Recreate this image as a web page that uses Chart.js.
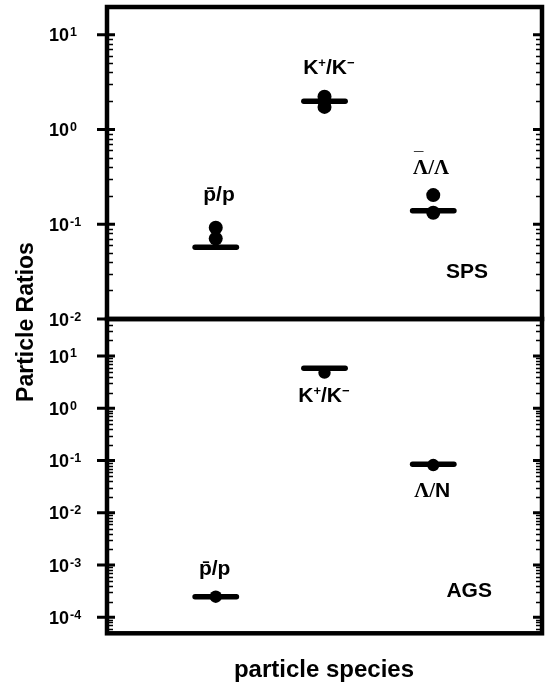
<!DOCTYPE html>
<html>
<head>
<meta charset="utf-8">
<script src="https://cdn.jsdelivr.net/npm/chart.js@4.4.1/dist/chart.umd.min.js"></script>
<style>
  html, body { margin: 0; padding: 0; background: #fff; }
  #wrap { position: relative; width: 551px; height: 687px; }
  #wrap canvas { position: absolute; left: 0; top: 0; }
</style>
</head>
<body>
<div id="wrap">
  <canvas id="spsChart" width="551" height="687"></canvas>
  <canvas id="agsChart" width="551" height="687"></canvas>
</div>
<script>
// positions of the three ratios along the (unlabelled) x axis
const speciesX = [1, 2, 3];

// SPS panel: two measurements per ratio and the model value
const spsMeasA = [0.092, 2.22, 0.203];
const spsMeasB = [0.0705, 1.73, 0.132];
const spsModel = [0.057, 1.98, 0.139];

// AGS panel: one measurement per ratio and the model value
const agsMeas = [2.48e-4, 4.8, 0.082];
const agsModel = [2.48e-4, 5.8, 0.085];

// y ranges and labelled decades
const spsRange = [0.01, 19.6];
const agsRange = [4.94e-5, 51];
const spsTickExp = [-2, -1, 0, 1];
const agsTickExp = [-4, -3, -2, -1, 0, 1];

const fonts = {
    sans: 'bold 21px "Liberation Sans", Arial, sans-serif',
    sup: 'bold 13px "Liberation Sans", Arial, sans-serif',
    serif: 'bold 21px "Liberation Serif", "Times New Roman", serif',
    bar: 'bold 17px "Liberation Sans", Arial, sans-serif',
    tick: 'bold 18px "Liberation Sans", Arial, sans-serif',
    tickSup: 'bold 12.5px "Liberation Sans", Arial, sans-serif',
    yTitle: 'bold 23px "Liberation Sans", Arial, sans-serif',
    xTitle: 'bold 24px "Liberation Sans", Arial, sans-serif'
};

// text annotations, placed in data coordinates
// a third entry of true puts a macron over that piece
const spsLabels = [
    { x: 1.03, y: 0.177, parts: [['p\u0304/p', 'sans']] },
    { x: 2.04, y: 3.81, parts: [['K', 'sans'], ['+', 'sup'], ['/', 'sans'], ['K', 'sans'], ['\u2212', 'sup']] },
    { x: 2.98, y: 0.339, parts: [['\u039B', 'serif', true], ['/\u039B', 'serif']] },
    { x: 3.31, y: 0.0268, parts: [['SPS', 'sans']] }
];
const agsLabels = [
    { x: 0.99, y: 6.47e-4, parts: [['p\u0304/p', 'sans']] },
    { x: 1.995, y: 1.32, parts: [['K', 'sans'], ['+', 'sup'], ['/', 'sans'], ['K', 'sans'], ['\u2212', 'sup']] },
    { x: 2.99, y: 0.0201, parts: [['\u039B/', 'serif'], ['N', 'sans']] },
    { x: 3.33, y: 2.45e-4, parts: [['AGS', 'sans']] }
];

function drawParts(ctx, parts, cx, baseline) {
    let total = 0;
    const widths = parts.map(p => {
        ctx.font = fonts[p[1]];
        const w = ctx.measureText(p[0]).width;
        total += w;
        return w;
    });
    let x = cx - total / 2;
    parts.forEach((p, i) => {
        ctx.font = fonts[p[1]];
        ctx.fillText(p[0], x, baseline + (p[1] === 'sup' ? -7 : 0));
        if (p[2]) {
            ctx.font = fonts.bar;
            const bw = ctx.measureText('\u00AF').width;
            ctx.fillText('\u00AF', x + widths[i] / 2 - bw / 2 - 2, baseline - 10);
        }
        x += widths[i];
    });
}

// frame, inward/outward log ticks, decade labels and annotations
function panelPlugin(id, tickExp, labels, withTitles) {
    return {
        id,
        afterDraw(chart) {
            const ctx = chart.ctx;
            const area = chart.chartArea;
            const xs = chart.scales.x, ys = chart.scales.y;
            ctx.save();
            ctx.strokeStyle = '#000';
            ctx.fillStyle = '#000';

            // minor ticks
            ctx.lineWidth = 1.5;
            for (let e = tickExp[0] - 1; e <= tickExp[tickExp.length - 1]; e++) {
                for (let k = 2; k <= 9; k++) {
                    const v = k * Math.pow(10, e);
                    if (v < ys.min || v > ys.max) continue;
                    const py = Math.round(ys.getPixelForValue(v)) + 0.5;
                    ctx.beginPath();
                    ctx.moveTo(area.left, py); ctx.lineTo(area.left + 6, py);
                    ctx.moveTo(area.right, py); ctx.lineTo(area.right - 6, py);
                    ctx.stroke();
                }
            }

            // major ticks and labels
            tickExp.forEach(e => {
                const py = ys.getPixelForValue(Math.pow(10, e));
                ctx.lineWidth = 3;
                ctx.beginPath();
                ctx.moveTo(area.left - 10, py); ctx.lineTo(area.left + 8, py);
                ctx.moveTo(area.right, py); ctx.lineTo(area.right - 9, py);
                ctx.stroke();
                ctx.textAlign = 'left';
                ctx.textBaseline = 'alphabetic';
                ctx.font = fonts.tick;
                ctx.fillText('10', 49, py + 6.7);
                const w = ctx.measureText('10').width;
                ctx.font = fonts.tickSup;
                ctx.fillText(e < 0 ? '-' + (-e) : String(e), 49 + w + 1, py + 1.5);
            });

            // frame
            ctx.lineWidth = 4.5;
            ctx.strokeRect(area.left, area.top, area.right - area.left, area.bottom - area.top);

            // annotations
            ctx.textAlign = 'left';
            ctx.textBaseline = 'alphabetic';
            labels.forEach(l => {
                drawParts(ctx, l.parts, xs.getPixelForValue(l.x), ys.getPixelForValue(l.y));
            });

            if (withTitles) {
                ctx.textAlign = 'center';
                ctx.font = fonts.xTitle;
                ctx.fillText('particle species', 324, 677);
                ctx.font = fonts.yTitle;
                ctx.save();
                ctx.translate(33, 322);
                ctx.rotate(-Math.PI / 2);
                ctx.fillText('Particle Ratios', 0, 0);
                ctx.restore();
            }
            ctx.restore();
        }
    };
}

function pointSet(values, radius) {
    return {
        data: speciesX.map((x, i) => ({ x, y: values[i] })),
        pointRadius: radius,
        pointHoverRadius: radius,
        pointBackgroundColor: '#000',
        pointBorderWidth: 0,
        showLine: false
    };
}

function segmentSets(model, half) {
    return model.map((v, i) => ({
        data: [{ x: speciesX[i] - half, y: v }, { x: speciesX[i] + half, y: v }],
        showLine: true,
        borderColor: '#000',
        borderWidth: 5.5,
        borderCapStyle: 'round',
        pointRadius: 0
    }));
}

function makePanel(canvasId, padding, range, datasets, plugin) {
    const ctx = document.getElementById(canvasId).getContext('2d');
    return new Chart(ctx, {
        type: 'scatter',
        data: { datasets },
        options: {
            responsive: false,
            animation: false,
            devicePixelRatio: 1,
            layout: { padding },
            plugins: { legend: { display: false }, tooltip: { enabled: false } },
            scales: {
                x: { type: 'linear', min: 0, max: 4, display: false },
                y: { type: 'logarithmic', min: range[0], max: range[1], display: false }
            }
        },
        plugins: [plugin]
    });
}

makePanel('spsChart', { left: 107, right: 9, top: 5.5, bottom: 368 }, spsRange,
    [...segmentSets(spsModel, 0.19), pointSet(spsMeasA, 7), pointSet(spsMeasB, 7)],
    panelPlugin('spsFrame', spsTickExp, spsLabels, false));

makePanel('agsChart', { left: 107, right: 9, top: 319, bottom: 53.7 }, agsRange,
    [...segmentSets(agsModel, 0.19), pointSet(agsMeas, 6.2)],
    panelPlugin('agsFrame', agsTickExp, agsLabels, true));
</script>
</body>
</html>
